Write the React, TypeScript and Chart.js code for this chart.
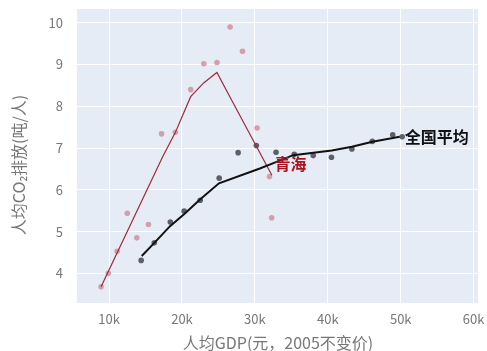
import React, { useEffect, useRef } from "react";
import { Chart, registerables } from "chart.js";

Chart.register(...registerables);

// Qinghai scatter (GDP per capita, CO2 per capita)
const qinghaiGdp = [8900, 9900, 11100, 12500, 13800, 15400, 17200, 19100, 21200, 23000, 24800, 26600, 28300, 30300, 32000, 32300];
const qinghaiCo2 = [3.68, 4.0, 4.53, 5.44, 4.85, 5.17, 7.34, 7.38, 8.4, 9.02, 9.05, 9.9, 9.32, 7.48, 6.32, 5.33];
// Qinghai trend line
const qinghaiLineGdp = [8900, 17350, 19080, 21190, 22970, 24790, 26800, 32330];
const qinghaiLineCo2 = [3.68, 6.79, 7.37, 8.23, 8.56, 8.81, 8.15, 6.35];
// National average scatter
const nationGdp = [14400, 16200, 18400, 20300, 22500, 25100, 27700, 30200, 32900, 35400, 38000, 40500, 43300, 46100, 48900, 50200];
const nationCo2 = [4.31, 4.73, 5.23, 5.49, 5.75, 6.28, 6.89, 7.06, 6.9, 6.85, 6.82, 6.78, 6.98, 7.16, 7.32, 7.27];
// National trend line
const nationLineGdp = [14480, 16210, 18360, 20320, 22470, 25070, 30680, 32970, 35250, 40550, 43290, 46120, 49860];
const nationLineCo2 = [4.415, 4.73, 5.13, 5.42, 5.77, 6.155, 6.51, 6.67, 6.83, 6.94, 7.03, 7.15, 7.27];

const xTicks = [10000, 20000, 30000, 40000, 50000, 60000];
const yTicks = [4, 5, 6, 7, 8, 9, 10];
const xTitle = "人均GDP(元，2005不变价)";
const yTitle = "人均CO₂排放(吨/人)";
const labelQinghai = { text: "青海", x: 32700, y: 6.62 };
const labelNation = { text: "全国平均", x: 50550, y: 7.26 };

const FONT = "'Noto Sans CJK SC', 'Noto Sans', sans-serif";

function zip(xs: number[], ys: number[]) {
  return xs.map((x, i) => ({ x, y: ys[i] }));
}

export default function App() {
  const ref = useRef<HTMLCanvasElement | null>(null);
  useEffect(() => {
    document.body.style.margin = "0";
    const canvas = ref.current!;
    const bgPlugin = {
      id: "bg",
      beforeDraw(chart: any) {
        const { ctx, chartArea: a } = chart;
        ctx.save();
        ctx.fillStyle = "#e5ecf6";
        ctx.fillRect(a.left, a.top, a.right - a.left, a.bottom - a.top);
        ctx.restore();
      },
      afterDraw(chart: any) {
        const { ctx, scales } = chart;
        ctx.save();
        // annotations
        ctx.font = `bold 16px ${FONT}`;
        ctx.textBaseline = "middle";
        ctx.textAlign = "left";
        ctx.fillStyle = "#a8141f";
        ctx.fillText(labelQinghai.text, scales.x.getPixelForValue(labelQinghai.x), scales.y.getPixelForValue(labelQinghai.y));
        ctx.fillStyle = "#111111";
        ctx.fillText(labelNation.text, scales.x.getPixelForValue(labelNation.x), scales.y.getPixelForValue(labelNation.y));
        // axis titles
        ctx.font = `16px ${FONT}`;
        ctx.fillStyle = "#777777";
        ctx.textAlign = "center";
        ctx.fillText(xTitle, 278, 343);
        ctx.translate(19, 165);
        ctx.rotate(-Math.PI / 2);
        ctx.fillText(yTitle, 0, 0);
        ctx.restore();
      },
    };
    const chart = new Chart(canvas, {
      type: "scatter",
      data: {
        datasets: [
          {
            label: "qinghaiLine",
            data: zip(qinghaiLineGdp, qinghaiLineCo2),
            showLine: true,
            borderColor: "#9e2a3a",
            borderWidth: 1.2,
            pointRadius: 0,
            tension: 0,
            order: 1,
          },
          {
            label: "nationLine",
            data: zip(nationLineGdp, nationLineCo2),
            showLine: true,
            borderColor: "#111111",
            borderWidth: 2,
            pointRadius: 0,
            tension: 0,
            order: 0,
          },
          {
            label: "qinghai",
            data: zip(qinghaiGdp, qinghaiCo2),
            backgroundColor: "rgba(205,140,152,0.8)",
            borderWidth: 0,
            pointRadius: 2.8,
            order: 3,
          },
          {
            label: "nation",
            data: zip(nationGdp, nationCo2),
            backgroundColor: "rgba(60,60,70,0.8)",
            borderWidth: 0,
            pointRadius: 2.8,
            order: 2,
          },
        ],
      },
      options: {
        animation: false,
        responsive: false,
        maintainAspectRatio: false,
        layout: { padding: { left: 0, right: 9, top: 9, bottom: 0 } },
        plugins: { legend: { display: false }, tooltip: { enabled: false } },
        scales: {
          x: {
            type: "linear",
            min: 5600,
            max: 60600,
            afterBuildTicks(scale: any) {
              scale.ticks = xTicks.map((v) => ({ value: v }));
            },
            afterFit(scale: any) {
              scale.height = 48;
              scale.paddingLeft = 0;
              scale.paddingRight = 0;
            },
            grid: { color: "#ffffff", lineWidth: 1, drawTicks: false },
            border: { display: false },
            ticks: {
              padding: 8,
              color: "#777777",
              font: { family: FONT, size: 13 },
              callback: (v: any) => `${Number(v) / 1000}k`,
            },
          },
          y: {
            type: "linear",
            min: 3.29,
            max: 10.33,
            afterBuildTicks(scale: any) {
              scale.ticks = yTicks.map((v) => ({ value: v }));
            },
            afterFit(scale: any) {
              scale.width = 77;
              scale.paddingTop = 0;
              scale.paddingBottom = 0;
            },
            grid: { color: "#ffffff", lineWidth: 1, drawTicks: false },
            border: { display: false },
            ticks: {
              padding: 14,
              color: "#777777",
              font: { family: FONT, size: 13 },
            },
          },
        },
      },
      plugins: [bgPlugin],
    } as any);
    return () => chart.destroy();
  }, []);
  return (
    <div style={{ width: 487, height: 351 }}>
      <canvas ref={ref} width={487} height={351} style={{ display: "block" }} />
    </div>
  );
}
